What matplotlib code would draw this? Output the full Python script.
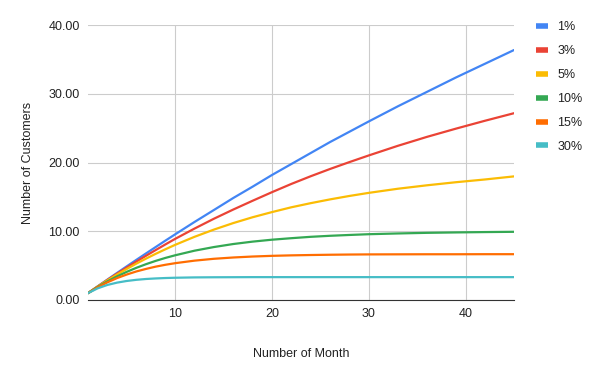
import matplotlib
matplotlib.use("Agg")
import matplotlib.pyplot as plt

months = [1, 2, 3, 4, 5, 6, 7, 8, 9, 10, 12, 14, 16, 18, 20, 22, 24, 26, 28, 30, 33, 36, 39, 42, 45]
s1 = [1, 1.99, 2.97, 3.94, 4.9, 5.85, 6.79, 7.72, 8.65, 9.56, 11.36, 13.1, 14.85, 16.5, 18.2,
      19.8, 21.4, 23.0, 24.5, 26.0, 28.2, 30.3, 32.4, 34.4, 36.4]
s3 = [1, 1.97, 2.92, 3.84, 4.73, 5.6, 6.45, 7.28, 8.1, 8.9, 10.4, 11.83, 13.17, 14.45, 15.7,
      16.9, 18.02, 19.08, 20.08, 21.05, 22.45, 23.75, 24.95, 26.1, 27.2]
s5 = [1, 1.95, 2.85, 3.71, 4.52, 5.3, 6.03, 6.73, 7.39, 8.03, 9.2, 10.25, 11.2, 12.05, 12.8,
      13.5, 14.1, 14.65, 15.15, 15.6, 16.2, 16.7, 17.15, 17.55, 18.0]
s10 = [1, 1.9, 2.71, 3.44, 4.1, 4.69, 5.22, 5.7, 6.13, 6.51, 7.18, 7.71, 8.15, 8.5, 8.78,
       9.0, 9.2, 9.35, 9.47, 9.58, 9.69, 9.78, 9.84, 9.89, 9.93]
s15 = [1, 1.85, 2.57, 3.19, 3.71, 4.16, 4.53, 4.86, 5.13, 5.36, 5.73, 6.0, 6.19, 6.33, 6.43,
       6.5, 6.55, 6.59, 6.62, 6.64, 6.65, 6.66, 6.66, 6.67, 6.67]
s30 = [1, 1.7, 2.19, 2.53, 2.77, 2.94, 3.06, 3.14, 3.2, 3.24, 3.29, 3.31, 3.32, 3.33, 3.33,
       3.33, 3.33, 3.33, 3.33, 3.33, 3.33, 3.33, 3.33, 3.33, 3.33]
labels = ["1%", "3%", "5%", "10%", "15%", "30%"]
colors = ["#4285F4", "#EA4335", "#FBBC04", "#34A853", "#FF6D01", "#46BDC6"]
yticks = [0, 10, 20, 30, 40]
xticks = [10, 20, 30, 40]

plt.rcParams['font.family'] = ['Liberation Sans', 'DejaVu Sans']
fig = plt.figure(figsize=(6, 3.71), dpi=100)
ax = fig.add_axes([88/600, 71/371, 426/600, 274.7/371])

for s, lab, c in zip([s1, s3, s5, s10, s15, s30], labels, colors):
    ax.plot(months, s, color=c, lw=1.6, label=lab, solid_capstyle='round',
            solid_joinstyle='round')

ax.set_xlim(1, 45)
ax.set_ylim(0, 40)
ax.set_yticks(yticks)
ax.set_yticklabels([f"{v:.2f}" for v in yticks])
ax.set_xticks(xticks)
ax.grid(True, color="#cccccc", lw=0.8)
ax.set_axisbelow(True)
for sp in ["top", "right", "left"]:
    ax.spines[sp].set_visible(False)
ax.spines["bottom"].set_color("#333333")
ax.tick_params(length=0, labelsize=9, colors="#222222", pad=6)
ax.set_xlabel("Number of Month", fontsize=9, color="#222222", labelpad=20)
ax.set_ylabel("Number of Customers", fontsize=9, color="#222222", labelpad=10)

leg = ax.legend(loc="upper left", bbox_to_anchor=(1.025, 1.055), frameon=False,
                fontsize=9, handlelength=1.0, handletextpad=0.7, labelspacing=0.95)
for h in leg.get_lines():
    h.set_linewidth(4)
    h.set_solid_capstyle('butt')
for t in leg.get_texts():
    t.set_color("#222222")

fig.savefig("out.png", dpi=100)
